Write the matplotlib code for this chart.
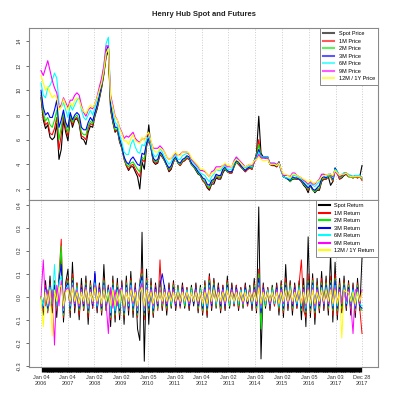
import pandas as pd
import matplotlib.pyplot as plt

plt.rcParams['font.family'] = ['Liberation Sans', 'DejaVu Sans']

# monthly readings, Jan 2006 .. Dec 2017 ($/MMBtu)
spot = [9.4, 7.6, 6.9, 7.2, 6.2, 6.0, 6.2, 7.3, 4.4, 5.2, 7.6, 6.6,
        5.9, 7.9, 7.0, 7.6, 7.7, 7.3, 6.1, 6.0, 5.6, 6.6, 7.1, 7.0,
        7.9, 8.5, 9.3, 10.2, 11.3, 12.7, 13.2, 8.4, 7.4, 6.6, 6.8, 5.8,
        5.3, 4.5, 3.9, 3.5, 3.8, 3.8, 3.4, 3.0, 2.0, 4.2, 3.6, 5.4,
        7.2, 5.3, 4.2, 4.0, 4.1, 4.8, 4.6, 4.3, 3.9, 3.4, 3.6, 4.2,
        4.5, 4.1, 3.9, 4.2, 4.3, 4.5, 4.4, 4.0, 3.8, 3.5, 3.2, 3.1,
        2.7, 2.5, 2.1, 1.9, 2.4, 2.4, 2.9, 2.8, 2.8, 3.3, 3.6, 3.4,
        3.3, 3.3, 3.8, 4.2, 4.0, 3.8, 3.6, 3.4, 3.6, 3.7, 3.6, 4.2,
        4.9, 7.9, 4.9, 4.6, 4.5, 4.6, 4.0, 3.9, 3.9, 3.8, 4.1, 3.5,
        3.0, 2.9, 2.8, 2.6, 2.8, 2.8, 2.8, 2.8, 2.6, 2.3, 2.1, 1.7,
        2.3, 2.0, 1.7, 1.9, 1.9, 2.6, 2.8, 2.8, 3.0, 2.3, 2.6, 3.6,
        3.3, 2.8, 2.9, 3.1, 3.2, 3.0, 3.0, 2.9, 3.0, 2.9, 3.0, 3.9]
m1 = [9.6, 7.9, 7.2, 7.4, 6.5, 6.4, 6.9, 7.8, 5.2, 6.4, 7.9, 6.9,
      6.3, 7.9, 7.2, 7.7, 7.8, 7.4, 6.3, 6.2, 6.0, 6.9, 7.3, 7.2,
      8.0, 8.6, 9.4, 10.3, 11.4, 12.9, 13.4, 8.5, 7.5, 6.7, 6.8, 5.9,
      5.3, 4.4, 3.9, 3.6, 3.9, 4.0, 3.6, 3.3, 3.0, 4.4, 4.2, 5.5,
      5.9, 5.3, 4.3, 4.1, 4.2, 4.8, 4.6, 4.3, 3.9, 3.5, 3.7, 4.2,
      4.5, 4.1, 3.9, 4.2, 4.3, 4.5, 4.4, 4.0, 3.8, 3.6, 3.3, 3.1,
      2.7, 2.5, 2.2, 2.0, 2.5, 2.6, 3.0, 2.9, 2.9, 3.4, 3.7, 3.4,
      3.3, 3.3, 3.9, 4.2, 4.0, 3.8, 3.6, 3.4, 3.6, 3.7, 3.6, 4.3,
      4.8, 6.0, 4.6, 4.6, 4.6, 4.5, 4.0, 3.9, 4.0, 3.8, 4.2, 3.5,
      3.0, 2.9, 2.8, 2.6, 2.9, 2.8, 2.8, 2.8, 2.6, 2.4, 2.2, 1.9,
      2.3, 1.9, 1.8, 2.0, 2.0, 2.7, 2.8, 2.8, 3.0, 3.0, 2.6, 3.7,
      3.3, 2.8, 3.0, 3.2, 3.2, 3.0, 3.0, 2.9, 3.0, 2.9, 3.0, 2.7]
m2 = [9.8, 8.2, 7.5, 7.8, 7.2, 7.0, 7.6, 8.4, 6.0, 7.0, 8.2, 7.2,
      6.6, 8.0, 7.4, 7.8, 8.0, 7.6, 6.6, 6.4, 6.4, 7.1, 7.5, 7.3,
      8.1, 8.7, 9.5, 10.4, 11.5, 13.0, 13.5, 8.7, 7.6, 6.8, 6.9, 6.0,
      5.4, 4.5, 4.0, 3.8, 4.1, 4.2, 3.9, 3.6, 3.4, 4.6, 4.4, 5.6,
      6.0, 5.4, 4.4, 4.2, 4.3, 4.9, 4.7, 4.3, 3.9, 3.6, 3.8, 4.3,
      4.5, 4.1, 4.0, 4.3, 4.4, 4.6, 4.5, 4.0, 3.8, 3.6, 3.3, 3.1,
      2.8, 2.6, 2.3, 2.1, 2.6, 2.7, 3.1, 3.0, 3.0, 3.5, 3.7, 3.4,
      3.4, 3.4, 3.9, 4.2, 4.1, 3.9, 3.6, 3.5, 3.7, 3.8, 3.7, 4.3,
      4.7, 5.6, 4.6, 4.6, 4.6, 4.5, 4.0, 4.0, 4.0, 3.9, 4.2, 3.5,
      3.0, 2.9, 2.8, 2.6, 2.9, 2.8, 2.9, 2.8, 2.7, 2.4, 2.2, 2.0,
      2.3, 1.9, 1.8, 2.0, 2.1, 2.8, 2.9, 2.9, 3.0, 3.1, 2.7, 3.7,
      3.4, 2.9, 3.0, 3.2, 3.3, 3.0, 3.0, 2.9, 3.0, 3.0, 3.0, 2.8]
m3 = [10.0, 8.6, 8.0, 8.2, 7.8, 7.8, 8.4, 9.2, 7.0, 7.6, 8.4, 7.4,
      7.0, 8.2, 7.6, 8.0, 8.2, 8.0, 7.0, 6.8, 6.8, 7.4, 7.8, 7.5,
      8.2, 8.8, 9.6, 10.5, 11.6, 13.2, 13.6, 8.9, 7.8, 7.0, 7.0, 6.1,
      5.5, 4.6, 4.2, 4.0, 4.4, 4.6, 4.3, 4.0, 3.9, 4.9, 4.8, 5.7,
      6.1, 5.4, 4.5, 4.3, 4.4, 5.0, 4.8, 4.4, 4.0, 3.7, 3.9, 4.4,
      4.6, 4.2, 4.1, 4.4, 4.5, 4.7, 4.6, 4.1, 3.9, 3.7, 3.4, 3.2,
      2.9, 2.8, 2.4, 2.3, 2.7, 2.8, 3.2, 3.1, 3.1, 3.6, 3.8, 3.5,
      3.4, 3.4, 4.0, 4.3, 4.2, 3.9, 3.7, 3.5, 3.7, 3.8, 3.8, 4.3,
      4.6, 5.2, 4.6, 4.6, 4.6, 4.6, 4.0, 4.0, 4.0, 3.9, 4.2, 3.5,
      3.0, 2.9, 2.8, 2.7, 3.0, 2.9, 2.9, 2.8, 2.7, 2.5, 2.3, 2.1,
      2.3, 2.0, 1.9, 2.1, 2.3, 2.9, 3.0, 2.9, 3.1, 3.2, 2.8, 3.7,
      3.4, 3.0, 3.1, 3.3, 3.3, 3.1, 3.1, 3.0, 3.1, 3.0, 3.1, 2.9]
m6 = [10.6, 9.6, 9.4, 10.2, 10.4, 10.8, 11.4, 11.0, 9.0, 8.6, 9.0, 8.4,
      7.8, 8.8, 8.4, 8.8, 9.2, 9.4, 8.4, 7.8, 7.6, 8.0, 8.4, 8.0,
      8.6, 9.2, 10.0, 10.8, 12.0, 13.8, 14.3, 9.4, 8.4, 7.4, 7.2, 6.4,
      5.8, 5.0, 4.8, 4.8, 5.6, 6.0, 5.4, 5.0, 4.9, 5.6, 5.5, 6.0,
      6.3, 5.5, 4.8, 4.6, 4.8, 5.3, 5.0, 4.6, 4.3, 4.0, 4.2, 4.6,
      4.8, 4.4, 4.4, 4.7, 4.8, 4.9, 4.8, 4.3, 4.1, 3.9, 3.6, 3.3,
      3.2, 3.1, 2.8, 2.6, 3.0, 3.2, 3.6, 3.5, 3.5, 3.8, 3.9, 3.6,
      3.6, 3.6, 4.1, 4.5, 4.3, 4.1, 3.9, 3.7, 3.8, 3.9, 3.8, 4.3,
      4.5, 5.0, 4.6, 4.6, 4.6, 4.6, 4.1, 4.1, 4.1, 3.9, 4.1, 3.4,
      3.0, 2.9, 2.9, 2.8, 3.1, 3.1, 3.0, 2.9, 2.8, 2.6, 2.5, 2.3,
      2.5, 2.3, 2.2, 2.4, 2.6, 3.1, 3.2, 3.0, 3.1, 3.2, 2.9, 3.6,
      3.4, 3.1, 3.2, 3.3, 3.3, 3.2, 3.1, 3.0, 3.1, 3.1, 3.1, 2.9]
m9 = [11.6, 11.2, 11.8, 12.4, 11.6, 10.8, 10.2, 9.8, 8.6, 8.8, 9.4, 9.0,
      8.6, 9.2, 9.2, 9.6, 9.8, 9.6, 8.8, 8.2, 7.9, 8.4, 8.6, 8.5,
      8.9, 9.5, 10.3, 11.0, 12.0, 13.6, 13.6, 9.6, 8.8, 7.9, 7.6, 7.0,
      6.6, 6.1, 6.3, 6.2, 6.4, 6.6, 6.1, 5.9, 5.8, 6.1, 6.0, 6.3,
      6.5, 5.8, 5.3, 5.3, 5.3, 5.5, 5.3, 5.0, 4.6, 4.4, 4.5, 4.7,
      4.9, 4.7, 4.8, 5.0, 5.0, 5.0, 4.8, 4.4, 4.2, 4.0, 3.8, 3.5,
      3.5, 3.4, 3.2, 3.0, 3.4, 3.5, 3.8, 3.8, 3.8, 3.9, 4.0, 3.8,
      3.8, 3.8, 4.3, 4.6, 4.4, 4.2, 4.0, 3.8, 3.9, 4.0, 3.9, 4.2,
      4.4, 4.8, 4.5, 4.5, 4.5, 4.5, 4.1, 4.1, 4.1, 4.0, 4.1, 3.5,
      3.1, 3.1, 3.1, 3.0, 3.3, 3.3, 3.1, 3.0, 2.9, 2.7, 2.6, 2.4,
      2.6, 2.4, 2.4, 2.6, 2.8, 3.2, 3.2, 3.1, 3.2, 3.2, 3.0, 3.4,
      3.2, 3.0, 3.1, 3.2, 3.3, 3.1, 3.0, 3.0, 3.0, 3.0, 3.0, 2.9]
m12 = [11.2, 10.6, 10.0, 10.3, 9.8, 9.4, 9.6, 9.4, 8.4, 8.6, 9.3, 8.8,
       8.4, 9.0, 8.7, 9.2, 9.4, 9.2, 8.6, 8.3, 8.1, 8.5, 8.8, 8.6,
       8.9, 9.4, 10.0, 10.6, 11.6, 13.0, 13.4, 9.4, 8.6, 7.8, 7.6, 6.9,
       6.5, 5.9, 5.9, 5.6, 6.1, 6.4, 5.9, 5.8, 5.7, 6.2, 5.9, 6.4,
       6.6, 5.9, 5.2, 5.0, 5.0, 5.3, 5.2, 5.0, 4.6, 4.4, 4.5, 4.8,
       5.0, 4.7, 4.7, 5.0, 5.0, 5.0, 4.9, 4.5, 4.3, 4.1, 3.9, 3.6,
       3.6, 3.5, 3.2, 3.0, 3.3, 3.3, 3.6, 3.6, 3.7, 3.9, 4.1, 3.9,
       3.9, 3.8, 4.2, 4.4, 4.3, 4.1, 3.9, 3.8, 3.9, 4.0, 4.0, 4.3,
       4.4, 4.6, 4.4, 4.3, 4.3, 4.4, 4.0, 4.0, 4.0, 3.9, 4.1, 3.6,
       3.2, 3.2, 3.1, 2.9, 3.2, 3.2, 3.1, 3.0, 2.9, 2.8, 2.7, 2.5,
       2.7, 2.5, 2.5, 2.6, 2.7, 3.0, 3.1, 3.1, 3.2, 3.2, 3.1, 3.5,
       3.3, 3.1, 3.2, 3.2, 3.3, 3.1, 3.0, 3.0, 3.0, 3.0, 3.0, 2.9]

# returns in percent at the same dates
spot_ret = [0, -8, 7, -6, 9, -7, 5, -9, 8, 18, -11, 6,
            12, -9, 15, -7, 6, -10, 8, -6, 9, -12, 7, -5,
            10, -7, 6, -8, 14, -6, 5, -13, 9, -11, 8, -10,
            7, -12, 9, -8, 11, -9, 6, -14, -19, 28, -28, 12,
            -12, 8, -9, 6, -5, 7, -6, 5, -8, 6, -5, 7,
            -6, 5, -4, 6, -5, 4, -6, 5, -4, 6, -7, 5,
            -8, 7, -9, 10, -6, 8, -5, 6, -7, 5, -6, 9,
            -5, 6, -4, 5, -6, 4, -5, 6, -4, 5, -6, 8,
            -7, 39, -27, 6, -5, 4, -6, 5, -4, 6, -8, 7,
            -9, 14, -6, 7, -8, 6, -5, 7, -10, 8, -13, 26,
            -9, 10, -12, 8, -7, 11, -6, 9, -8, 19, -11, 15,
            -10, 8, -7, 9, -6, 7, -8, 6, -9, 8, -6, 17]
m1_ret = [0, -6, 5, -7, 6, -5, 7, -6, 9, 25, -9, 5,
          8, -7, 10, -5, 6, -8, 5, -6, 7, -9, 6, -5,
          9, -6, 5, -7, 8, -6, 5, -10, 7, -9, 6, -8,
          6, -9, 7, -6, 8, -7, 5, -9, 7, 12, -10, 8,
          -7, 6, -8, 5, -6, 16, -5, 4, -6, 5, -4, 6,
          -5, 4, -5, 5, -4, 4, -5, 4, -3, 5, -6, 4,
          -7, 6, -8, 9, -5, 7, -4, 5, -6, 5, -5, 7,
          -4, 5, -4, 5, -5, 4, -4, 5, -4, 4, -5, 6,
          -6, 12, -9, 5, -4, 4, -5, 4, -4, 5, -6, 6,
          -7, 8, -5, 6, -6, 5, -5, 6, 16, -6, -9, 10,
          -7, 8, -9, 6, -6, 8, -5, 7, -6, 9, -8, 10,
          -8, 6, -6, 7, -5, 6, -6, 5, -7, 6, -5, -16]
m2_ret = [0, -5, 4, -6, 5, -4, 6, -5, 8, 22, -8, 4,
          7, -6, 8, -4, 5, -6, 4, -5, 6, -7, 5, -4,
          8, -5, 4, -6, 7, -5, 4, -9, 6, -8, 5, -7,
          5, -8, 6, -5, 7, -6, 4, -8, 6, 10, -8, 7,
          -6, 5, -7, 4, -5, 6, -4, 4, -5, 4, -4, 5,
          -4, 4, -4, 4, -4, 3, -4, 4, -3, 4, -5, 4,
          -6, 5, -6, 7, -4, 6, -4, 4, -5, 4, -4, 6,
          -4, 4, -3, 4, -4, 3, -4, 4, -3, 4, -4, 5,
          -5, 10, -14, 4, -4, 3, -4, 4, -3, 4, -5, 5,
          -6, 6, -4, 5, -5, 4, -4, 5, -6, 5, -7, 7,
          -6, 7, -7, 5, -5, 6, -4, 6, -5, 7, -6, 8,
          -6, 5, -5, 6, -4, 5, -5, 4, -6, 5, -4, -6]
m3_ret = [0, -5, 4, -5, 5, -4, 5, -4, 7, 14, -7, 4,
          6, -5, 7, -4, 4, -5, 4, -4, 5, -6, 4, -4,
          11, -5, 4, -5, 6, -4, 4, -8, 5, -7, 4, -6,
          5, -7, 5, -5, 6, -5, 4, -7, 5, 9, -7, 6,
          -5, 4, -6, 4, -4, 5, 10, 4, -4, 4, -3, 4,
          -4, 3, -4, 4, -3, 3, -4, 3, -3, 4, -4, 3,
          -5, 4, -5, 6, -4, 5, -3, 4, -4, 4, -4, 5,
          -3, 4, -3, 4, -3, 3, -3, 4, -3, 3, -4, 4,
          -4, 8, -7, 4, -3, 3, -4, 3, -3, 4, -4, 4,
          -5, 5, -4, 4, -4, 4, -4, 4, -5, 4, -6, 6,
          -5, 6, -6, 4, -4, 5, -4, 5, -4, 6, -5, 7,
          -5, 4, -4, 5, -4, 4, -4, 4, -5, 4, -4, -5]
m6_ret = [0, -4, 3, -4, 4, -3, 14, -4, 6, 9, -6, 3,
          5, -4, 6, -3, 4, -4, 3, -3, 4, -5, 3, -3,
          6, -4, 3, -4, 5, -3, 3, -7, 4, -6, 3, -5,
          4, -6, 4, -4, 5, -4, 3, -6, 4, 7, -6, 5,
          -4, 3, -5, 3, -3, 4, -3, 3, -3, 3, -3, 3,
          -3, 3, -3, 3, -3, 3, -3, 3, -2, 3, -3, 3,
          -4, 3, -4, 5, -3, 4, -3, 3, -3, 3, -3, 4,
          -3, 3, -3, 3, -3, 3, -3, 3, -2, 3, -3, 3,
          -3, 6, -5, 3, -3, 3, -3, 3, -3, 3, -4, 3,
          -4, 4, -3, 4, -3, 3, -3, 4, -4, 3, -5, 5,
          -4, 5, -5, 3, -3, 4, -3, 4, -3, 5, -4, 5,
          -4, 3, -3, 4, -3, 3, -3, 3, -4, 3, -3, -4]
m9_ret = [0, 16, -4, 3, -4, 3, -21, 5, -4, 7, -5, 3,
          4, -3, 5, -3, 3, -4, 3, -3, 4, -4, 3, -3,
          5, -3, 3, -4, 4, -3, -16, 4, -5, 3, -4, 3,
          4, -5, 3, -3, 4, -3, 3, -5, 3, 6, -5, 4,
          -3, 3, -4, 3, -3, 3, -3, 3, -3, 3, -2, 3,
          -3, 2, -3, 3, -2, 2, -3, 2, -2, 3, -3, 2,
          -3, 3, -3, 4, -3, 3, -2, 3, -3, 3, -3, 3,
          -2, 3, -2, 3, -2, 2, -3, 2, -2, 3, -2, 3,
          -3, 5, -4, 3, -2, 2, -3, 2, -2, 3, -3, 3,
          -3, 3, -3, 3, -3, 3, -2, 3, -3, 3, -4, 4,
          -3, 4, -4, 3, -3, 3, -3, 3, -3, 4, -3, 4,
          -3, 3, -3, 3, -2, 3, -3, -16, 3, 3, -3, 3]
m12_ret = [0, -13, 2, -3, 3, -17, 3, -2, 4, 5, -4, 2,
           3, -2, 4, -2, 2, -3, 2, -2, 3, -3, 2, -2,
           4, -2, 2, -3, 3, -2, 2, -4, 3, -4, 2, -3,
           3, -4, 2, -2, 3, -2, 2, -4, 2, 4, -4, 3,
           -2, 2, -3, 2, -2, 2, -2, 2, -2, 2, -2, 2,
           -2, 2, -2, 2, -2, 2, -2, 2, -2, 2, -2, 2,
           -3, 2, -3, 3, -2, 3, -2, 2, -2, 2, -2, 3,
           -2, 2, -2, 2, -2, 2, -2, 2, -2, 2, -2, 2,
           -2, 4, -3, 2, -2, 2, -2, 2, -2, 2, -3, 2,
           -2, 3, -2, 3, -2, 2, -2, 3, -3, 2, -3, 3,
           -3, 3, -3, 2, -2, 3, -2, 3, -2, 3, -3, 3,
           -3, 2, -18, 3, 2, 2, -2, 2, -3, 2, -2, 2]

tick_dates = ['2006-01-04', '2007-01-04', '2008-01-02', '2009-01-02', '2010-01-05',
              '2011-01-03', '2012-01-04', '2013-01-02', '2014-01-03', '2015-01-02',
              '2016-01-05', '2017-01-03', '2017-12-28']
tick_labels = ['Jan 04\n2006', 'Jan 04\n2007', 'Jan 02\n2008', 'Jan 02\n2009', 'Jan 05\n2010',
               'Jan 03\n2011', 'Jan 04\n2012', 'Jan 02\n2013', 'Jan 03\n2014', 'Jan 02\n2015',
               'Jan 05\n2016', 'Jan 03\n2017', 'Dec 28\n2017']

price_names = ['Spot Price', '1M Price', '2M Price', '3M Price', '6M Price', '9M Price', '12M / 1Y Price']
ret_names = ['Spot Return', '1M Return', '2M Return', '3M Return', '6M Return', '9M Return', '12M / 1Y Return']
colors = ['black', 'red', '#00ee00', 'blue', 'cyan', 'magenta', 'yellow']

dates = pd.date_range('2006-01-04', '2017-12-28', periods=len(spot))
ticks = pd.to_datetime(tick_dates)
xlim = (ticks[0] - pd.Timedelta(days=164), ticks[-1] + pd.Timedelta(days=218))

prices = [spot, m1, m2, m3, m6, m9, m12]
rets = [spot_ret, m1_ret, m2_ret, m3_ret, m6_ret, m9_ret, m12_ret]

fig = plt.figure(figsize=(4, 4), dpi=100)
ax1 = fig.add_axes([0.0725, 0.5, 0.8725, 0.43])
ax2 = fig.add_axes([0.0725, 0.0825, 0.8725, 0.4175])

for s, c, n in zip(prices, colors, price_names):
    ax1.plot(dates, s, color=c, lw=0.8, label=n)
for s, c, n in zip(rets, colors, ret_names):
    ax2.plot(dates, [v / 100 for v in s], color=c, lw=0.7, label=n)

ax1.set_ylim(1.11, 15.05)
ax1.set_yticks([2, 4, 6, 8, 10, 12, 14])
ax2.set_ylim(-0.305, 0.42)
ax2.set_yticks([-0.3, -0.2, -0.1, 0.0, 0.1, 0.2, 0.3, 0.4])
ax2.set_yticklabels(['-0.3', '-0.2', '-0.1', '0.0', '0.1', '0.2', '0.3', '0.4'])

for ax in (ax1, ax2):
    ax.set_xlim(xlim)
    ax.set_xticks(ticks)
    ax.grid(axis='x', color='#cccccc', linestyle=':', linewidth=0.7)
    for sp in ax.spines.values():
        sp.set_color('#888888')
        sp.set_linewidth(0.8)
    ax.tick_params(axis='y', labelsize=4, length=2.5, width=0.6, color='#555555',
                   pad=3, labelrotation=90, labelcolor='#333333')
    for lab in ax.get_yticklabels():
        lab.set_va('center')

ax1.tick_params(axis='x', length=0, labelbottom=False)
ax2.set_xticklabels(tick_labels)
ax2.tick_params(axis='x', length=0, labelsize=4, pad=6, labelcolor='#333333')
ax2.set_xticks(dates, minor=True)
ax2.tick_params(axis='x', which='minor', length=3.5, width=2.4, color='black')

leg_kw = dict(loc='upper right', fontsize=4, frameon=True, fancybox=False,
              edgecolor='#888888', framealpha=1, borderaxespad=0,
              handlelength=2.0, labelspacing=0.45, borderpad=0.6)
lg1 = ax1.legend(**leg_kw)
lg2 = ax2.legend(**leg_kw)
for lg in (lg1, lg2):
    lg.get_frame().set_linewidth(0.7)
    for h in lg.get_lines():
        h.set_linewidth(1.5)
for h in lg1.get_lines():
    h.set_alpha(0.65)

fig.text(0.509, 0.9625, 'Henry Hub Spot and Futures', ha='center', va='center',
         fontsize=5.5, fontweight='bold', color='#222222')

fig.savefig('out.png', dpi=100)
